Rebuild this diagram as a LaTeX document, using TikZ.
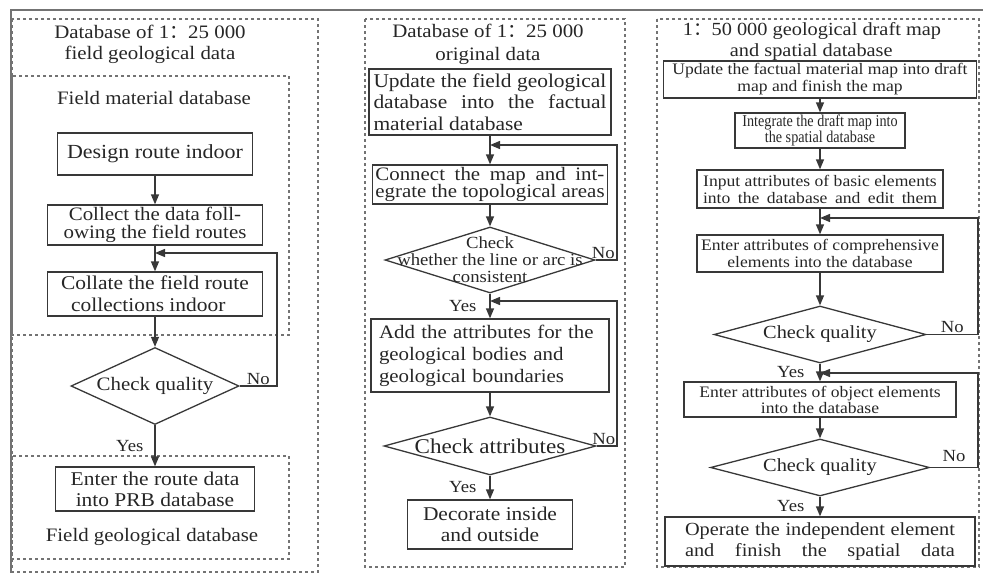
\documentclass[tikz,border=0pt]{standalone}
\usepackage{fontspec}
\setmainfont{Liberation Serif}[FakeStretch=1.1]
\newfontfamily\condfont{Liberation Serif}[FakeStretch=0.86]
\newfontfamily\cjk{Noto Sans CJK SC}
\usetikzlibrary{shapes.geometric}
\usetikzlibrary{positioning}
\usetikzlibrary{arrows.meta}
\definecolor{linegray}{gray}{0.22}
\definecolor{framegray}{gray}{0.45}
\newcommand{\setfs}[2]{\fontsize{#1}{#2}\selectfont}
\newcommand{\fwcolon}{{\cjk ：}}

\begin{document}
\begin{tikzpicture}[%
  x=1pt, y=-1pt,
  >={Triangle[length=10pt,width=8pt]},
  every node/.style={text=black!85},
  box/.style={draw=linegray, line width=1.3pt, inner sep=0pt, align=center},
  decide/.style={diamond, draw=linegray, line width=1.3pt, inner sep=0pt},
  flow/.style={->, draw=linegray, line width=1.3pt},
  frame/.style={draw=framegray, line width=1.2pt, dash pattern=on 3pt off 3pt},
  answer/.style={font=\setfs{17}{17}, inner sep=1pt},
]

  \useasboundingbox (0,0) rectangle (983,573);
  \draw[framegray, line width=2pt] (11,573) -- (11,10) -- (983,10);

  % left column
  \draw[frame] (12,19) rectangle (318,572);
  \draw[frame] (12,76) rectangle (289,335);
  \draw[frame] (12,456) rectangle (289,559);

  \node[font=\setfs{19}{21}, align=center] (t1) at (150,44) {Database of 1\fwcolon25 000\\field geological data};
  \node[font=\setfs{19}{19}] (s1) at (154,98) {Field material database};
  \node[box, minimum width=195pt, minimum height=42pt, font=\setfs{20}{17}] (b11) at (155,154) {Design route indoor};
  \node[box, minimum width=215pt, minimum height=40pt, font=\setfs{19}{18}] (b12) at (155,225) {Collect the data foll-\\owing the field routes};
  \node[box, minimum width=215pt, minimum height=44pt, font=\setfs{19.5}{22}, align=left] (b13) at (155,294) {Collate the field route\\\hspace*{10pt}collections indoor};
  \node[decide, minimum width=168pt, minimum height=77pt,
    label={[font=\setfs{19}{19}]center:Check quality}] (d11) at (155,386) {};
  \node[box, minimum width=199pt, minimum height=44pt, font=\setfs{19.5}{21}] (b14) at (155,489) {Enter the route data\\into PRB database};
  \node[font=\setfs{19}{19}] (s2) at (152,537) {Field geological database};

  \coordinate (j11) at (155,253);
  \coordinate (r11) at (277,253);

  \draw[flow] (b11) -- (b12);
  \draw[flow] (b12) -- (b13);
  \draw[flow] (b13) -- (d11);
  \draw[flow] (d11) -- node[answer, left=10pt] (y11) {Yes} (b14);
  \draw[flow] (d11.east) -- node[answer, above] (n11) {No} (d11.east -| r11) -- (r11) -- (j11);

  % middle column
  \draw[frame] (365,19) rectangle (625,567);

  \node[font=\setfs{19}{23}, align=center] (t2) at (488,44) {Database of 1\fwcolon25 000\\original data};
  \node[box, minimum width=242pt, minimum height=66pt, font=\setfs{19.5}{21.5}, align=left] (b21) at (490,102)
    {Update the field geological\\\makebox[233pt][s]{database into the factual}\\material database};
  \node[box, minimum width=235pt, minimum height=39pt, font=\setfs{19}{17.5}, align=left] (b22) at (490,184.5)
    {\makebox[229pt][s]{Connect the map and int-}\\egrate the topological areas};
  \node[decide, minimum width=210pt, minimum height=66pt,
    label={[font=\setfs{17}{17}, align=center]center:Check\\whether the line or arc is\\consistent}] (d21) at (490,260) {};
  \node[box, minimum width=238pt, minimum height=73pt, font=\setfs{19}{22}, text width=222pt, align=left] (b23) at (490,355.5)
    {Add the attributes for the\\\makebox[206pt][s]{geological bodies and}\\geological boundaries};
  \node[decide, minimum width=212pt, minimum height=58pt,
    label={[font=\setfs{21}{21}]center:Check attributes}] (d22) at (490,446) {};
  \node[box, minimum width=165pt, minimum height=49pt, font=\setfs{19.5}{21}] (b24) at (490,524.5) {Decorate inside\\and outside};

  \coordinate (j21) at (490,145);
  \coordinate (r21) at (617,145);
  \coordinate (j22) at (490,301);
  \coordinate (r22) at (617,301);

  \draw[flow] (b21) -- (b22);
  \draw[flow] (b22) -- (d21);
  \draw[flow] (d21) -- node[answer, left=12pt] (y21) {Yes} (b23);
  \draw[flow] (b23) -- (d22);
  \draw[flow] (d22) -- node[answer, left=12pt] (y22) {Yes} (b24);
  \draw[flow] (d21.east) -- node[answer, above, xshift=-3pt] (n21) {No} (d21.east -| r21) -- (r21) -- (j21);
  \draw[flow] (d22.east) -- node[answer, above, xshift=-3pt] (n22) {No} (d22.east -| r22) -- (r22) -- (j22);

  % right column
  \draw[frame] (657,19) rectangle (979,567);

  \node[font=\setfs{18.5}{21}, align=left] (t3) at (812,41.5) {1\fwcolon50 000 geological draft map\\\hspace*{47pt}and spatial database};
  \node[box, minimum width=313pt, minimum height=37pt, font=\setfs{16}{17}] (b31) at (820,79.5) {Update the factual material map into draft\\map and finish the map};
  \node[box, minimum width=170pt, minimum height=35pt, font=\condfont\setfs{16.5}{16}] (b32) at (820,130.5) {Integrate the draft map into\\the spatial database};
  \node[box, minimum width=246pt, minimum height=38pt, font=\setfs{16}{17}] (b33) at (820,189)
    {Input attributes of basic elements\\\makebox[234pt][s]{into the database and edit them}};
  \node[box, minimum width=246pt, minimum height=37pt, font=\setfs{16}{17}] (b34) at (820,253.5) {Enter attributes of comprehensive\\elements into the database};
  \node[decide, minimum width=212pt, minimum height=57pt,
    label={[font=\setfs{18.5}{18.5}]center:Check quality}] (d31) at (820,334.5) {};
  \node[box, minimum width=272pt, minimum height=35pt, font=\setfs{16}{16}] (b35) at (820,399.5) {Enter attributes of object elements\\into the database};
  \node[decide, minimum width=219pt, minimum height=57pt,
    label={[font=\setfs{18.5}{18.5}]center:Check quality}] (d32) at (820,467.5) {};
  \node[box, minimum width=310pt, minimum height=49pt, font=\setfs{18.5}{21}] (b36) at (820,541.5)
    {\makebox[270pt][s]{Operate the independent element}\\\makebox[270pt][s]{and finish the spatial data}};

  \coordinate (j31) at (820,218);
  \coordinate (r31) at (978,218);
  \coordinate (j32) at (820,373);
  \coordinate (r32) at (978,373);

  \draw[flow] (b31) -- (b32);
  \draw[flow] (b32) -- (b33);
  \draw[flow] (b33) -- (b34);
  \draw[flow] (b34) -- (d31);
  \draw[flow] (d31) -- node[answer, left=14pt] (y31) {Yes} (b35);
  \draw[flow] (b35) -- (d32);
  \draw[flow] (d32) -- node[answer, left=14pt] (y32) {Yes} (b36);
  \draw[flow] (d31.east) -- node[answer, above] (n31) {No} (d31.east -| r31) -- (r31) -- (j31);
  \draw[flow] (d32.east) -- node[answer, above, yshift=4pt] (n32) {No} (d32.east -| r32) -- (r32) -- (j32);

\end{tikzpicture}
\end{document}
